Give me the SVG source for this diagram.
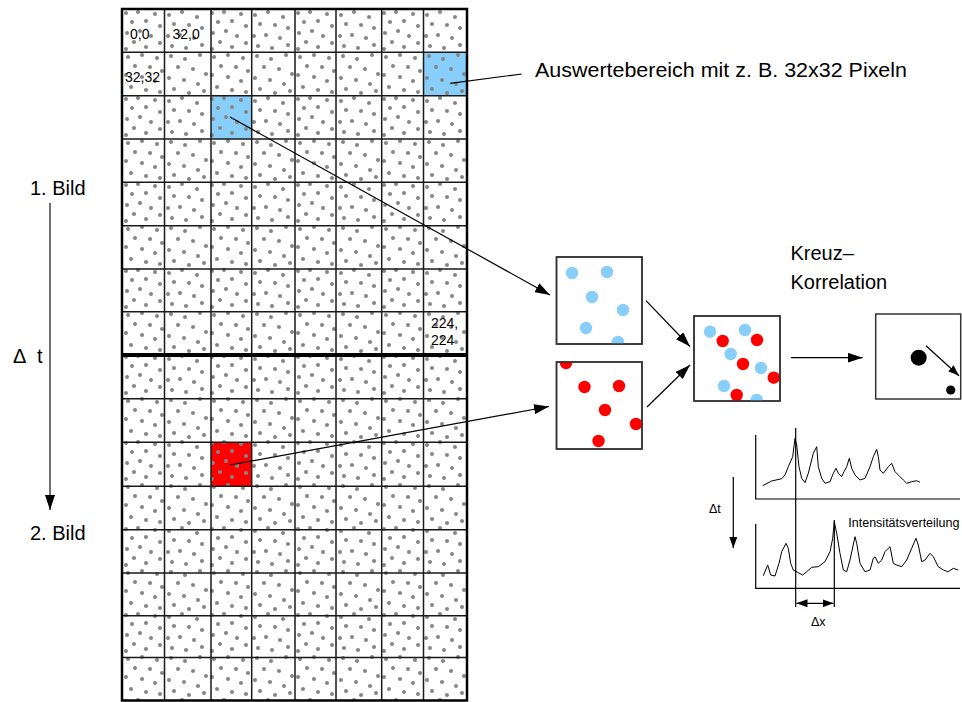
<svg xmlns="http://www.w3.org/2000/svg" width="962" height="702" viewBox="0 0 962 702">
<style>
text{font-family:"Liberation Sans",Arial,sans-serif;fill:#000}
.big{font-size:20px}
.cell{font-size:14px}
.small{font-size:12.5px}
.gl{stroke:#1a1a1a;stroke-width:1.5;fill:none}
.box{fill:#fff;stroke:#333;stroke-width:1.5}
.con{stroke:#000;stroke-width:1.2;fill:none}
.curve{stroke:#000;stroke-width:1;fill:none;stroke-linejoin:round}
.ax{stroke:#000;stroke-width:1.2;fill:none}
.b{fill:#87CEFA}
.r{fill:#FF0000}
</style>
<defs>
<marker id="ah" markerUnits="userSpaceOnUse" markerWidth="16" markerHeight="10" refX="15" refY="5" orient="auto">
<path d="M0,0 L15,5 L0,10 z" fill="#000"/>
</marker>
<marker id="ahs" markerUnits="userSpaceOnUse" markerWidth="12" markerHeight="8" refX="11" refY="4" orient="auto">
<path d="M0,0 L11,4 L0,8 z" fill="#000"/>
</marker>
<marker id="ahsStart" markerUnits="userSpaceOnUse" markerWidth="12" markerHeight="8" refX="1" refY="4" orient="auto">
<path d="M12,0 L1,4 L12,8 z" fill="#000"/>
</marker>
<pattern id="dots" patternUnits="userSpaceOnUse" x="122" y="9" width="86" height="86">
<g fill="#858585">
<circle cx="4" cy="4" r="2"/><circle cx="16" cy="3" r="2"/><circle cx="33" cy="5" r="2"/><circle cx="10" cy="13" r="2"/><circle cx="24" cy="12" r="2"/><circle cx="38" cy="17" r="2"/><circle cx="5" cy="24" r="2"/><circle cx="18" cy="22" r="2"/><circle cx="29" cy="27" r="2"/><circle cx="12" cy="33" r="2"/><circle cx="24" cy="38" r="2"/><circle cx="38" cy="34" r="2"/><circle cx="4" cy="40" r="2"/>
<circle cx="47" cy="6" r="2"/><circle cx="60" cy="3" r="2"/><circle cx="75" cy="8" r="2"/><circle cx="52" cy="15" r="2"/><circle cx="67" cy="16" r="2"/><circle cx="80" cy="19" r="2"/><circle cx="46" cy="27" r="2"/><circle cx="58" cy="26" r="2"/><circle cx="72" cy="29" r="2"/><circle cx="50" cy="37" r="2"/><circle cx="64" cy="39" r="2"/><circle cx="80" cy="36" r="2"/>
<circle cx="6" cy="48" r="2"/><circle cx="20" cy="46" r="2"/><circle cx="35" cy="49" r="2"/><circle cx="13" cy="57" r="2"/><circle cx="28" cy="58" r="2"/><circle cx="40" cy="62" r="2"/><circle cx="4" cy="66" r="2"/><circle cx="20" cy="68" r="2"/><circle cx="33" cy="72" r="2"/><circle cx="9" cy="78" r="2"/><circle cx="24" cy="81" r="2"/><circle cx="38" cy="83" r="2"/>
<circle cx="49" cy="47" r="2"/><circle cx="63" cy="50" r="2"/><circle cx="78" cy="46" r="2"/><circle cx="56" cy="58" r="2"/><circle cx="71" cy="60" r="2"/><circle cx="84" cy="65" r="2"/><circle cx="47" cy="69" r="2"/><circle cx="62" cy="71" r="2"/><circle cx="76" cy="75" r="2"/><circle cx="52" cy="80" r="2"/><circle cx="67" cy="84" r="2"/><circle cx="82" cy="82" r="2"/>
</g>
</pattern>
<clipPath id="cBlue"><rect x="556.5" y="257" width="85.5" height="87"/></clipPath>
<clipPath id="cRed"><rect x="556.5" y="362" width="85.5" height="87"/></clipPath>
<clipPath id="cComb"><rect x="694" y="316" width="86" height="85"/></clipPath>
</defs>
<rect width="962" height="702" fill="#fff"/>

<g id="grid">
<rect x="122" y="9" width="345" height="691.5" fill="#fff"/>
<rect x="423.5" y="52.3" width="43.5" height="43.4" class="b"/>
<rect x="211" y="95.7" width="40.7" height="43.3" class="b"/>
<rect x="211" y="442.3" width="40.7" height="44" class="r"/>
<rect x="122" y="9" width="345" height="691.5" fill="url(#dots)"/>
<path class="gl" d="M164.5,9V700.5 M211,9V700.5 M251.7,9V700.5 M295,9V700.5 M336,9V700.5 M381.7,9V700.5 M423.5,9V700.5"/>
<path class="gl" d="M122,52.3H467 M122,95.7H467 M122,139H467 M122,182.3H467 M122,225.7H467 M122,269H467 M122,311.7H467 M122,398.7H467 M122,442.3H467 M122,486.3H467 M122,529.7H467 M122,573H467 M122,615.7H467 M122,657.5H467"/>
<rect x="122" y="9" width="345" height="691.5" fill="none" stroke="#000" stroke-width="2.5"/>
<line x1="122" y1="355" x2="467" y2="355" stroke="#000" stroke-width="4"/>
<text class="cell" x="130" y="39">0,0</text>
<text class="cell" x="172.5" y="39">32,0</text>
<text class="cell" x="125" y="82">32,32</text>
<text class="cell" x="431" y="328">224,</text>
<text class="cell" x="431" y="345">224</text>
</g>

<g id="labels">
<text class="big" x="535" y="77" textLength="372" lengthAdjust="spacingAndGlyphs">Auswertebereich mit z. B. 32x32 Pixeln</text>
<text class="big" x="30" y="195">1. Bild</text>
<text class="big" x="30" y="540">2. Bild</text>
<text class="big" x="13" y="363">Δ<tspan x="37">t</tspan></text>
<text class="big" x="790.5" y="260">Kreuz–</text>
<text class="big" x="790.5" y="289">Korrelation</text>
</g>

<g id="blue-box">
<rect class="box" x="556.5" y="257" width="85.5" height="87"/>
<g clip-path="url(#cBlue)" class="b">
<circle cx="572" cy="273" r="6.2"/><circle cx="607" cy="272" r="6.2"/><circle cx="592" cy="297" r="6.2"/><circle cx="623" cy="310" r="6.2"/><circle cx="586" cy="328" r="6.2"/><circle cx="618" cy="342" r="6.2"/>
</g>
<rect x="556.5" y="257" width="85.5" height="87" fill="none" stroke="#333" stroke-width="1.5"/>
</g>

<g id="red-box">
<rect class="box" x="556.5" y="362" width="85.5" height="87"/>
<g clip-path="url(#cRed)" class="r">
<circle cx="566" cy="363" r="6.2"/><circle cx="584.5" cy="387" r="6.2"/><circle cx="619" cy="386" r="6.2"/><circle cx="605" cy="410" r="6.2"/><circle cx="636" cy="424" r="6.2"/><circle cx="598.5" cy="441" r="6.2"/>
</g>
<rect x="556.5" y="362" width="85.5" height="87" fill="none" stroke="#333" stroke-width="1.5"/>
</g>

<g id="combined-box">
<rect class="box" x="694" y="316" width="86" height="85"/>
<g clip-path="url(#cComb)">
<g class="b">
<circle cx="710" cy="331.7" r="6.2"/><circle cx="745" cy="330" r="6.2"/><circle cx="730.7" cy="354" r="6.2"/><circle cx="761" cy="368" r="6.2"/><circle cx="724" cy="386" r="6.2"/><circle cx="756.7" cy="400" r="6.2"/>
</g>
<g class="r">
<circle cx="722.7" cy="341" r="6.2"/><circle cx="757" cy="340" r="6.2"/><circle cx="743" cy="364" r="6.2"/><circle cx="773.7" cy="377.7" r="6.2"/><circle cx="736.7" cy="395" r="6.2"/>
</g>
</g>
<rect x="694" y="316" width="86" height="85" fill="none" stroke="#333" stroke-width="1.5"/>
</g>

<g id="result-box">
<rect class="box" x="875.7" y="314" width="85" height="85"/>
<circle cx="918.7" cy="357.7" r="8" fill="#000"/>
<circle cx="950.7" cy="390" r="4.6" fill="#000"/>
<line class="con" x1="926" y1="345.7" x2="959" y2="375.7" marker-end="url(#ahs)"/>
</g>

<g id="intensity-graph">
<path class="ax" d="M755.7,435V499H960"/>
<path class="ax" d="M755.7,524V588.3H960"/>
<line class="ax" x1="795.7" y1="428" x2="795.7" y2="607"/>
<line class="ax" x1="834.3" y1="520" x2="834.3" y2="607"/>
<polyline class="curve" points="762.7,485.7 771.7,481 781.7,478.7 785,475 788.3,466.7 792.7,456.7 795,438.3 796.7,445 799,466.7 801.7,478.3 805,482.7 808.3,473.3 813.3,453.3 816.7,446.7 818.3,466.7 821.7,478.3 825,483.3 830,481.7 833.3,473.3 836,468.3 838.3,473.3 841.7,476.7 844,471.7 846.7,466.7 849.3,458.3 851.7,468.3 855,475 860,480 865,478.3 870,466.7 873.3,456.7 876.7,449.3 878.3,456.7 880,470 883.3,473.3 888.3,466.7 891.7,463.3 895,471.7 900,476.7 903.3,480 906.7,483.3 911.7,481.7 916.7,480.7 920,482.3"/>
<polyline class="curve" points="763.3,575.7 767.7,565 770.7,575 775,576 779,563.3 781.7,551.7 786,543.3 788.3,548.3 790.7,563.3 793.3,570 798.3,572.7 802.7,575 806.7,571.7 811.7,567.3 818.3,566.7 825,561.7 830,551.7 832.7,538.3 834.3,521.7 836.7,533.3 840,553.3 843.3,570 846.7,571.7 850,560 855,536.7 856.7,543.3 860,563.3 865,571.7 870,570 873.3,558.3 875,556.7 878.3,563.3 881.7,560 885,551.7 888.3,548.3 890,546.7 893.3,563.3 896.7,565 901.7,566.7 906.7,560 911.7,548.3 916,538.3 918.3,545 921.7,561.7 925,560 930,553.3 933.3,556.7 938.3,566.7 943.3,570 948.3,571.7 953.3,568.3 958.3,570"/>
<text class="small" x="848.3" y="527">Intensitätsverteilung</text>
<text class="small" x="709" y="513">Δt</text>
<text class="small" x="811" y="626">Δx</text>
</g>

<g id="connectors">
<line class="con" x1="450" y1="83.3" x2="521.7" y2="74"/>
<line class="con" x1="230" y1="117" x2="550" y2="295" marker-end="url(#ah)"/>
<line class="con" x1="230" y1="465" x2="549" y2="406.5" marker-end="url(#ah)"/>
<line class="con" x1="646" y1="300.7" x2="690" y2="346.5" marker-end="url(#ah)"/>
<line class="con" x1="647" y1="407" x2="690" y2="365" marker-end="url(#ah)"/>
<line class="con" x1="791" y1="357.7" x2="862.7" y2="357.7" marker-end="url(#ah)"/>
<line x1="50" y1="203" x2="50" y2="510" stroke="#444" stroke-width="1.5" marker-end="url(#ah)"/>
<line class="con" x1="733.3" y1="477" x2="733.3" y2="548" marker-end="url(#ahs)"/>
<line class="con" x1="796.5" y1="603.3" x2="833.5" y2="603.3" marker-start="url(#ahsStart)" marker-end="url(#ahs)"/>
</g>
</svg>
